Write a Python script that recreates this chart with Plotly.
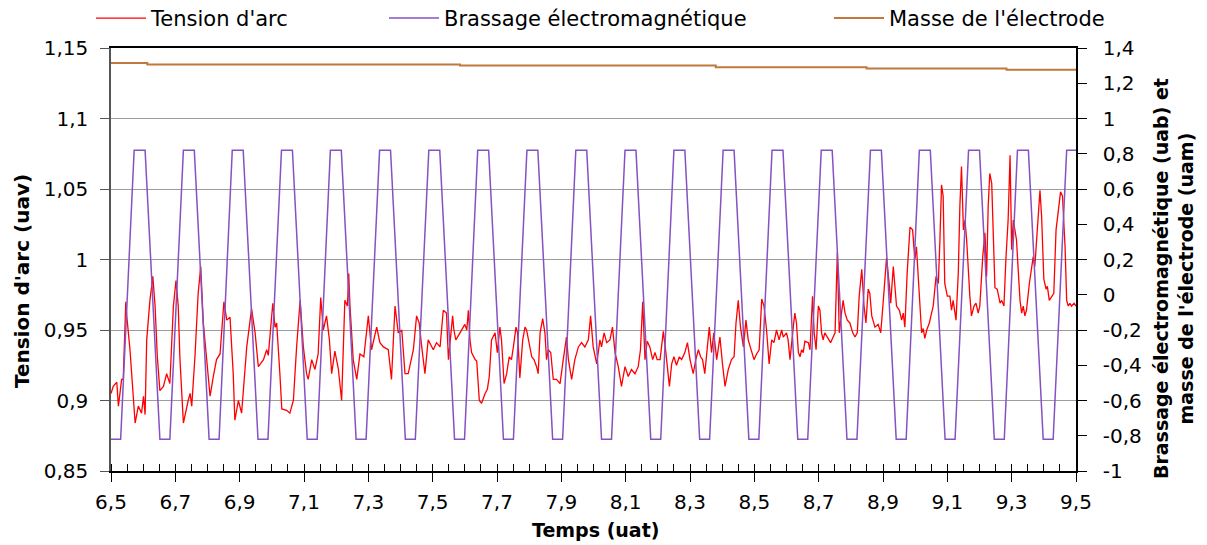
import plotly.graph_objects as go

# ---------------- data ----------------
# Tension d'arc (left axis)
red_t_a = [6.500, 6.507, 6.518, 6.523, 6.533, 6.538, 6.546, 6.549, 6.559, 6.564,
           6.575, 6.585, 6.595, 6.601, 6.606, 6.611, 6.621, 6.630, 6.637, 6.644,
           6.652, 6.663, 6.673, 6.683, 6.694, 6.702, 6.709, 6.714, 6.725, 6.740,
           6.746, 6.751, 6.761, 6.771, 6.779, 6.787, 6.797, 6.808, 6.818, 6.828,
           6.839, 6.851, 6.860, 6.870, 6.880, 6.885, 6.896, 6.906, 6.922, 6.937,
           6.948, 6.958, 6.974, 6.984, 6.989, 7.003, 7.010, 7.015, 7.025, 7.031,
           7.046, 7.056, 7.067, 7.077, 7.088, 7.098, 7.108, 7.113, 7.124, 7.134,
           7.144, 7.152, 7.160, 7.170, 7.179, 7.186, 7.196, 7.207, 7.217, 7.227,
           7.235, 7.239, 7.243, 7.253, 7.264, 7.274, 7.286, 7.300, 7.310, 7.326,
           7.336, 7.347, 7.362, 7.372, 7.383, 7.393, 7.404, 7.414, 7.424, 7.440,
           7.450, 7.458, 7.466, 7.476, 7.486, 7.502, 7.512, 7.523, 7.533, 7.543,
           7.549]
red_v_a = [0.905, 0.910, 0.913, 0.896, 0.915, 0.915, 0.970, 0.960, 0.936, 0.919,
           0.884, 0.896, 0.891, 0.903, 0.890, 0.943, 0.971, 0.988, 0.967, 0.931,
           0.907, 0.910, 0.919, 0.912, 0.967, 0.985, 0.967, 0.931, 0.884, 0.900,
           0.905, 0.896, 0.931, 0.976, 0.995, 0.955, 0.931, 0.903, 0.917, 0.929,
           0.933, 0.970, 0.957, 0.959, 0.919, 0.886, 0.900, 0.891, 0.938, 0.965,
           0.948, 0.924, 0.929, 0.936, 0.932, 0.969, 0.952, 0.955, 0.919, 0.894,
           0.893, 0.891, 0.900, 0.938, 0.971, 0.938, 0.919, 0.915, 0.929, 0.922,
           0.933, 0.973, 0.950, 0.960, 0.943, 0.919, 0.935, 0.922, 0.900, 0.971,
           0.967, 0.990, 0.967, 0.929, 0.915, 0.933, 0.931, 0.960, 0.936, 0.952,
           0.941, 0.938, 0.936, 0.915, 0.967, 0.948, 0.950, 0.919, 0.919, 0.936,
           0.960, 0.955, 0.938, 0.919, 0.943, 0.936, 0.941, 0.938, 0.964, 0.962,
           0.929]
red_t_b = [7.562, 7.566, 7.572, 7.585, 7.595, 7.600, 7.606, 7.611, 7.616, 7.621,
           7.632, 7.637, 7.645, 7.652, 7.663, 7.670, 7.676, 7.683, 7.694, 7.701,
           7.709, 7.714, 7.722, 7.730, 7.738, 7.745, 7.751, 7.759, 7.764, 7.771,
           7.780, 7.787, 7.792, 7.803, 7.808, 7.815, 7.823, 7.828, 7.834, 7.842,
           7.849, 7.854, 7.859, 7.867, 7.875, 7.885, 7.896, 7.906, 7.916, 7.922,
           7.932, 7.942, 7.953, 7.963, 7.973, 7.984, 7.991, 7.999, 8.010, 8.020,
           8.025, 8.033, 8.041, 8.051, 8.059, 8.067, 8.077, 8.087, 8.098, 8.108,
           8.118, 8.129, 8.139, 8.146, 8.153, 8.160, 8.167, 8.175, 8.184, 8.191,
           8.198, 8.207, 8.217, 8.225, 8.236, 8.243, 8.250, 8.258, 8.267, 8.274,
           8.284, 8.292, 8.300, 8.310, 8.318, 8.326, 8.333, 8.339, 8.346, 8.354,
           8.360, 8.367, 8.374, 8.383, 8.393, 8.401, 8.409, 8.419, 8.429, 8.437,
           8.443, 8.450, 8.457, 8.466, 8.474, 8.481, 8.492, 8.499, 8.507, 8.515,
           8.523, 8.530, 8.538, 8.546, 8.554, 8.561, 8.569, 8.577]
red_v_b = [0.960, 0.950, 0.943, 0.948, 0.952, 0.954, 0.950, 0.964, 0.943, 0.934,
           0.929, 0.928, 0.900, 0.898, 0.905, 0.908, 0.917, 0.943, 0.948, 0.934,
           0.952, 0.943, 0.912, 0.919, 0.931, 0.929, 0.938, 0.952, 0.948, 0.916,
           0.943, 0.952, 0.950, 0.938, 0.931, 0.929, 0.924, 0.919, 0.948, 0.958,
           0.948, 0.929, 0.936, 0.934, 0.915, 0.915, 0.912, 0.929, 0.945, 0.929,
           0.915, 0.929, 0.938, 0.941, 0.938, 0.943, 0.960, 0.938, 0.926, 0.943,
           0.938, 0.948, 0.941, 0.943, 0.952, 0.934, 0.924, 0.910, 0.924, 0.917,
           0.922, 0.919, 0.924, 0.936, 0.970, 0.929, 0.942, 0.938, 0.929, 0.934,
           0.929, 0.929, 0.949, 0.934, 0.910, 0.926, 0.931, 0.925, 0.931, 0.929,
           0.934, 0.941, 0.929, 0.919, 0.929, 0.936, 0.931, 0.929, 0.919, 0.938,
           0.952, 0.934, 0.948, 0.929, 0.945, 0.926, 0.910, 0.922, 0.929, 0.931,
           0.955, 0.971, 0.952, 0.938, 0.957, 0.943, 0.934, 0.929, 0.933, 0.936,
           0.972, 0.967, 0.950, 0.926, 0.943, 0.941, 0.950, 0.943]
red_t_c = [8.585, 8.590, 8.600, 8.605, 8.611, 8.616, 8.621, 8.626, 8.631, 8.637,
           8.642, 8.647, 8.652, 8.657, 8.668, 8.673, 8.681, 8.686, 8.692, 8.699,
           8.704, 8.709, 8.714, 8.719, 8.730, 8.737, 8.745, 8.751, 8.758, 8.764,
           8.771, 8.776, 8.782, 8.789, 8.797, 8.806, 8.813, 8.820, 8.826, 8.834,
           8.841, 8.847, 8.854, 8.859, 8.865, 8.870, 8.875, 8.885, 8.893, 8.901,
           8.911, 8.920, 8.924, 8.932, 8.937, 8.942, 8.951, 8.958, 8.963, 8.968,
           8.975, 8.984, 8.992, 8.999, 9.004, 9.013, 9.020, 9.025, 9.030, 9.036,
           9.044, 9.051, 9.056, 9.065, 9.072, 9.077, 9.082, 9.087, 9.092, 9.100,
           9.108, 9.113, 9.118, 9.127, 9.134, 9.139, 9.144, 9.150, 9.155, 9.160,
           9.165, 9.170, 9.175, 9.183, 9.189, 9.196, 9.201, 9.210, 9.217, 9.222,
           9.227, 9.232, 9.238, 9.243, 9.248, 9.255, 9.264, 9.269, 9.276, 9.282,
           9.289, 9.295, 9.300, 9.305, 9.315, 9.321, 9.326, 9.331, 9.336, 9.341,
           9.346, 9.355, 9.362, 9.367, 9.372, 9.377, 9.383, 9.388, 9.393, 9.400,
           9.407, 9.411, 9.417, 9.424, 9.431, 9.438, 9.445, 9.452, 9.458, 9.466,
           9.471, 9.476, 9.481, 9.486, 9.494, 9.500]
red_v_c = [0.950, 0.945, 0.948, 0.943, 0.929, 0.943, 0.952, 0.962, 0.955, 0.934,
           0.931, 0.936, 0.934, 0.942, 0.941, 0.936, 0.974, 0.948, 0.936, 0.967,
           0.964, 0.948, 0.943, 0.948, 0.943, 0.941, 0.945, 0.948, 1.005, 0.948,
           0.962, 0.971, 0.962, 0.957, 0.955, 0.948, 0.945, 0.948, 0.974, 0.993,
           0.967, 0.955, 0.979, 0.976, 0.960, 0.955, 0.952, 0.954, 0.948, 0.971,
           1.001, 0.981, 0.969, 0.995, 0.981, 0.967, 0.964, 0.957, 0.962, 0.952,
           0.990, 1.023, 1.021, 1.000, 1.009, 0.971, 0.948, 0.951, 0.944, 0.950,
           0.955, 0.962, 0.967, 0.988, 0.983, 1.014, 1.053, 1.045, 0.983, 0.974,
           0.974, 0.964, 0.971, 0.957, 0.990, 1.038, 1.066, 1.021, 1.028, 1.014,
           0.990, 0.974, 0.960, 0.967, 0.969, 0.962, 0.967, 1.002, 1.019, 0.988,
           1.038, 1.061, 1.054, 1.014, 0.980, 0.979, 0.969, 0.971, 0.967, 1.000,
           1.028, 1.074, 1.007, 1.028, 1.014, 0.990, 0.971, 0.962, 0.967, 0.960,
           0.964, 0.983, 0.993, 1.002, 0.995, 1.014, 1.028, 1.049, 1.031, 0.986,
           0.979, 0.981, 0.971, 0.974, 0.976, 1.021, 1.033, 1.048, 1.045, 1.009,
           0.971, 0.967, 0.969, 0.967, 0.969, 0.967]

# Brassage electromagnetique (right axis): corner points of the trapezoid wave
brass_t = [6.500, 6.530,
           6.572, 6.606, 6.652, 6.683,
           6.725, 6.759, 6.805, 6.836,
           6.877, 6.911, 6.957, 6.988,
           7.030, 7.064, 7.110, 7.141,
           7.182, 7.216, 7.262, 7.293,
           7.335, 7.369, 7.415, 7.446,
           7.488, 7.522, 7.568, 7.599,
           7.640, 7.674, 7.720, 7.751,
           7.793, 7.827, 7.873, 7.904,
           7.945, 7.979, 8.025, 8.056,
           8.098, 8.132, 8.178, 8.209,
           8.250, 8.284, 8.330, 8.361,
           8.403, 8.437, 8.483, 8.514,
           8.555, 8.589, 8.635, 8.666,
           8.708, 8.742, 8.788, 8.819,
           8.861, 8.895, 8.941, 8.972,
           9.013, 9.047, 9.093, 9.124,
           9.166, 9.200, 9.246, 9.277,
           9.318, 9.352, 9.398, 9.429,
           9.471, 9.500]
brass_v = [-0.82, -0.82,
           0.82, 0.82, -0.82, -0.82,
           0.82, 0.82, -0.82, -0.82,
           0.82, 0.82, -0.82, -0.82,
           0.82, 0.82, -0.82, -0.82,
           0.82, 0.82, -0.82, -0.82,
           0.82, 0.82, -0.82, -0.82,
           0.82, 0.82, -0.82, -0.82,
           0.82, 0.82, -0.82, -0.82,
           0.82, 0.82, -0.82, -0.82,
           0.82, 0.82, -0.82, -0.82,
           0.82, 0.82, -0.82, -0.82,
           0.82, 0.82, -0.82, -0.82,
           0.82, 0.82, -0.82, -0.82,
           0.82, 0.82, -0.82, -0.82,
           0.82, 0.82, -0.82, -0.82,
           0.82, 0.82, -0.82, -0.82,
           0.82, 0.82, -0.82, -0.82,
           0.82, 0.82, -0.82, -0.82,
           0.82, 0.82, -0.82, -0.82,
           0.82, 0.82]

# Masse de l'electrode (right axis), step values
mass_t = [6.500, 6.613, 7.585, 8.380, 8.849, 9.284, 9.500]
mass_v = [1.315, 1.306, 1.300, 1.291, 1.283, 1.276, 1.276]

# tick labels
x_ticks = [6.5, 6.7, 6.9, 7.1, 7.3, 7.5, 7.7, 7.9, 8.1, 8.3, 8.5, 8.7, 8.9, 9.1, 9.3, 9.5]
x_labels = ["6,5", "6,7", "6,9", "7,1", "7,3", "7,5", "7,7", "7,9", "8,1", "8,3",
            "8,5", "8,7", "8,9", "9,1", "9,3", "9,5"]
y1_ticks = [0.85, 0.9, 0.95, 1.0, 1.05, 1.1, 1.15]
y1_labels = ["0,85", "0,9", "0,95", "1", "1,05", "1,1", "1,15"]
y2_ticks = [-1, -0.8, -0.6, -0.4, -0.2, 0, 0.2, 0.4, 0.6, 0.8, 1, 1.2, 1.4]
y2_labels = ["-1", "-0,8", "-0,6", "-0,4", "-0,2", "0", "0,2", "0,4", "0,6", "0,8",
             "1", "1,2", "1,4"]

FONT = "'DejaVu Sans', sans-serif"

fig = go.Figure()
fig.add_trace(go.Scatter(x=red_t_a + red_t_b + red_t_c, y=red_v_a + red_v_b + red_v_c,
                         mode="lines", name="Tension d'arc",
                         line=dict(color="#FF0000", width=1.3), legend="legend"))
fig.add_trace(go.Scatter(x=brass_t, y=brass_v, mode="lines",
                         name="Brassage électromagnétique", yaxis="y2",
                         line=dict(color="#8452C2", width=1.5), legend="legend2"))
fig.add_trace(go.Scatter(x=mass_t, y=mass_v, mode="lines", line_shape="hv",
                         name="Masse de l'électrode", yaxis="y2",
                         line=dict(color="#C0783C", width=2), legend="legend3"))

leg_common = dict(orientation="h", yanchor="middle", y=1.07, xanchor="left",
                  font=dict(family=FONT, size=21, color="#000000"),
                  bgcolor="rgba(0,0,0,0)", itemwidth=50)

fig.update_layout(
    width=1199, height=537,
    margin=dict(l=103, r=131, t=40, b=74, autoexpand=False),
    paper_bgcolor="white", plot_bgcolor="white",
    font=dict(family=FONT, size=20, color="#000000"),
    showlegend=True,
    legend=dict(leg_common, x=-0.0207),
    legend2=dict(leg_common, x=0.2829),
    legend3=dict(leg_common, x=0.744),
    xaxis=dict(range=[6.5, 9.5], tickvals=x_ticks, ticktext=x_labels,
               showline=True, linecolor="#000000", linewidth=1.5, mirror=True,
               ticks="outside", ticklen=9, tickcolor="#000000", tickwidth=1.3,
               minor=dict(dtick=0.05, tick0=6.5, ticks="inside", ticklen=7,
                          tickcolor="#000000", tickwidth=1, showgrid=False),
               showgrid=False, zeroline=False, ticklabelstandoff=3,
               tickfont=dict(family=FONT, size=20)),
    yaxis=dict(range=[0.85, 1.15], tickvals=y1_ticks, ticktext=y1_labels,
               showline=True, linecolor="#555555", linewidth=1.5,
               ticks="outside", ticklen=9, tickcolor="#555555",
               showgrid=True, gridcolor="#9C9C9C", gridwidth=1.3, zeroline=False,
               ticklabelstandoff=8,
               tickfont=dict(family=FONT, size=20)),
    yaxis2=dict(range=[-1, 1.4], tickvals=y2_ticks, ticktext=y2_labels,
                overlaying="y", side="right",
                showline=True, linecolor="#000000", linewidth=1.5,
                ticks="outside", ticklen=9, tickcolor="#000000",
                showgrid=False, zeroline=False, ticklabelstandoff=12,
                tickfont=dict(family=FONT, size=20)),
    annotations=[
        dict(text="<b>Tension d'arc (uav)</b>", xref="paper", yref="paper",
             x=-0.0922, y=0.449, textangle=-90, showarrow=False,
             xanchor="center", yanchor="middle", font=dict(family=FONT, size=20)),
        dict(text="<b>Temps (uat)</b>", xref="paper", yref="paper",
             x=0.5016, y=-0.1395, showarrow=False,
             xanchor="center", yanchor="middle", font=dict(family=FONT, size=19)),
        dict(text="<b>Brassage électromagnétique (uab) et<br>masse de l'électrode (uam)</b>",
             xref="paper", yref="paper", x=1.1005, y=0.456, textangle=-90,
             showarrow=False, xanchor="center", yanchor="middle",
             font=dict(family=FONT, size=19)),
    ],
)

fig.write_html("out.html")
